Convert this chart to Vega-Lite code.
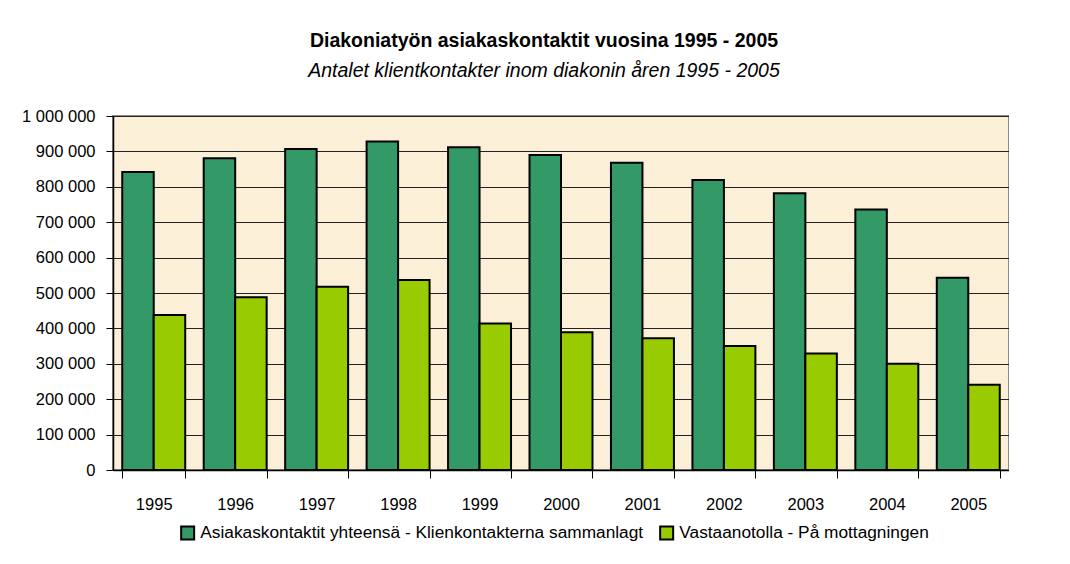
{
  "$schema": "https://vega.github.io/schema/vega-lite/v6.json",
  "width": 896,
  "height": 354,
  "padding": {"left": 21, "top": 31, "right": 0, "bottom": 0},
  "background": "white",
  "config": {
    "locale": {"number": {"decimal": ",", "thousands": " ", "grouping": [3], "currency": ["", " €"]}},
    "font": "Liberation Sans",
    "view": {"fill": "#FBEFD8", "stroke": "#8C8C8C", "strokeWidth": 2}
  },
  "title": {
    "text": "Diakoniatyön asiakaskontaktit vuosina 1995 - 2005",
    "subtitle": "Antalet klientkontakter inom diakonin åren 1995 - 2005",
    "anchor": "middle",
    "dx": -17,
    "font": "Liberation Sans",
    "fontSize": 19.5,
    "fontWeight": "bold",
    "color": "#000000",
    "subtitleFont": "Liberation Sans",
    "subtitleFontSize": 19.5,
    "subtitleFontStyle": "italic",
    "subtitleColor": "#000000",
    "subtitlePadding": 10,
    "offset": 27
  },
  "data": {
    "values": [
      {"year": "1995", "series": "Asiakaskontaktit yhteensä - Klienkontakterna sammanlagt", "value": 842000},
      {"year": "1996", "series": "Asiakaskontaktit yhteensä - Klienkontakterna sammanlagt", "value": 881000},
      {"year": "1997", "series": "Asiakaskontaktit yhteensä - Klienkontakterna sammanlagt", "value": 907000},
      {"year": "1998", "series": "Asiakaskontaktit yhteensä - Klienkontakterna sammanlagt", "value": 928000},
      {"year": "1999", "series": "Asiakaskontaktit yhteensä - Klienkontakterna sammanlagt", "value": 912000},
      {"year": "2000", "series": "Asiakaskontaktit yhteensä - Klienkontakterna sammanlagt", "value": 890000},
      {"year": "2001", "series": "Asiakaskontaktit yhteensä - Klienkontakterna sammanlagt", "value": 868000},
      {"year": "2002", "series": "Asiakaskontaktit yhteensä - Klienkontakterna sammanlagt", "value": 819000},
      {"year": "2003", "series": "Asiakaskontaktit yhteensä - Klienkontakterna sammanlagt", "value": 782000},
      {"year": "2004", "series": "Asiakaskontaktit yhteensä - Klienkontakterna sammanlagt", "value": 736000},
      {"year": "2005", "series": "Asiakaskontaktit yhteensä - Klienkontakterna sammanlagt", "value": 543000},
      {"year": "1995", "series": "Vastaanotolla - På mottagningen", "value": 438000},
      {"year": "1996", "series": "Vastaanotolla - På mottagningen", "value": 488000},
      {"year": "1997", "series": "Vastaanotolla - På mottagningen", "value": 518000},
      {"year": "1998", "series": "Vastaanotolla - På mottagningen", "value": 537000},
      {"year": "1999", "series": "Vastaanotolla - På mottagningen", "value": 414000},
      {"year": "2000", "series": "Vastaanotolla - På mottagningen", "value": 389000},
      {"year": "2001", "series": "Vastaanotolla - På mottagningen", "value": 372000},
      {"year": "2002", "series": "Vastaanotolla - På mottagningen", "value": 350000},
      {"year": "2003", "series": "Vastaanotolla - På mottagningen", "value": 329000},
      {"year": "2004", "series": "Vastaanotolla - På mottagningen", "value": 300000},
      {"year": "2005", "series": "Vastaanotolla - På mottagningen", "value": 241000}
    ]
  },
  "mark": {"type": "bar", "stroke": "#000000", "strokeWidth": 2},
  "encoding": {
    "x": {
      "field": "year",
      "type": "ordinal",
      "scale": {"paddingInner": 0.227, "paddingOuter": 0.1135},
      "axis": {
        "title": null,
        "labelAngle": 0,
        "labelFontSize": 16.5,
        "labelColor": "#000000",
        "labelPadding": 18,
        "tickBand": "extent",
        "tickSize": 8,
        "tickColor": "#000000",
        "domainColor": "#000000",
        "domainWidth": 1.5,
        "grid": false
      }
    },
    "xOffset": {
      "field": "series",
      "type": "nominal",
      "sort": ["Asiakaskontaktit yhteensä - Klienkontakterna sammanlagt", "Vastaanotolla - På mottagningen"],
      "scale": {"paddingInner": 0, "paddingOuter": 0}
    },
    "y": {
      "field": "value",
      "type": "quantitative",
      "scale": {"domain": [0, 1000000], "nice": false},
      "axis": {
        "title": null,
        "values": [0, 100000, 200000, 300000, 400000, 500000, 600000, 700000, 800000, 900000, 1000000],
        "format": ",d",
        "labelFontSize": 16.5,
        "labelColor": "#000000",
        "labelPadding": 11,
        "tickSize": 7,
        "tickColor": "#000000",
        "domainColor": "#000000",
        "domainWidth": 1.5,
        "grid": true,
        "gridColor": "#222222",
        "gridOpacity": 1,
        "gridWidth": 1
      }
    },
    "color": {
      "field": "series",
      "type": "nominal",
      "sort": ["Asiakaskontaktit yhteensä - Klienkontakterna sammanlagt", "Vastaanotolla - På mottagningen"],
      "scale": {
        "domain": ["Asiakaskontaktit yhteensä - Klienkontakterna sammanlagt", "Vastaanotolla - På mottagningen"],
        "range": ["#339966", "#99CC00"]
      },
      "legend": {
        "title": null,
        "orient": "none",
        "legendX": 66,
        "legendY": 408,
        "direction": "horizontal",
        "padding": 0,
        "symbolType": "square",
        "symbolSize": 169,
        "symbolStrokeColor": "#000000",
        "symbolStrokeWidth": 2,
        "symbolOpacity": 1,
        "labelFontSize": 17.3,
        "labelColor": "#000000",
        "labelLimit": 0,
        "labelOffset": 4,
        "columnPadding": 12
      }
    }
  }
}
